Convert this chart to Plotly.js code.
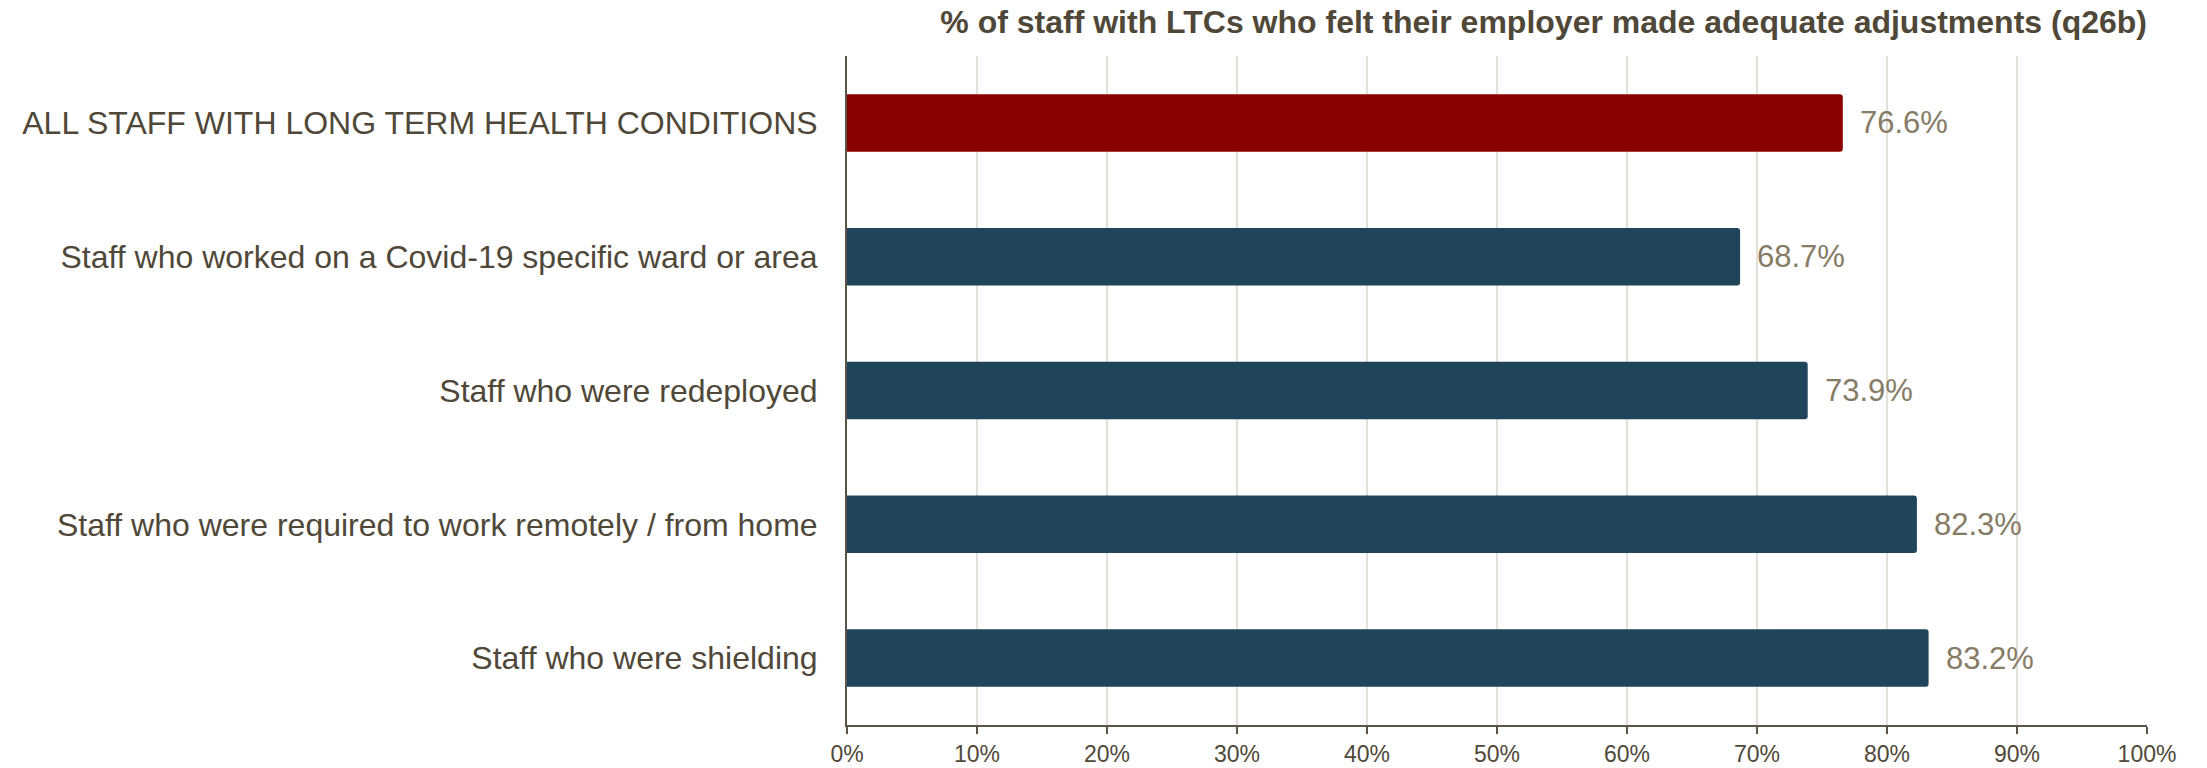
<!DOCTYPE html>
<html>
<head>
<meta charset="utf-8">
<script src="https://cdn.plot.ly/plotly-3.0.1.min.js"></script>
<style>
  html, body { margin: 0; padding: 0; background: #ffffff; }
  #chart { width: 2207px; height: 768px; }
</style>
</head>
<body>
<div id="chart"></div>
<script>
// Survey groups, top to bottom
const categories = [
  "ALL STAFF WITH LONG TERM HEALTH CONDITIONS",
  "Staff who worked on a Covid-19 specific ward or area",
  "Staff who were redeployed",
  "Staff who were required to work remotely / from home",
  "Staff who were shielding"
];

// Percentage of staff with LTCs reporting adequate adjustments
const values = [76.6, 68.7, 73.9, 82.3, 83.2];

// Tick values and labels for the percentage axis
const tickValues = [0, 10, 20, 30, 40, 50, 60, 70, 80, 90, 100];
const tickLabels = ["0%", "10%", "20%", "30%", "40%", "50%", "60%", "70%", "80%", "90%", "100%"];

const chartTitle = "% of staff with LTCs who felt their employer made adequate adjustments (q26b)";

const textColor = "#4f4839";
const valueColor = "#867b65";
const axisColor = "#5b5345";
const barColors = categories.map((c, i) => i === 0 ? "#8b0000" : "#20455a");

const trace = {
  type: "bar",
  orientation: "h",
  x: values,
  y: categories,
  width: 0.43,
  marker: { color: barColors, cornerradius: 3, line: { width: 0 } },
  hoverinfo: "skip"
};

// Value labels placed just past each bar's end
const valueLabels = values.map((v, i) => ({
  x: v,
  y: categories[i],
  xref: "x",
  yref: "y",
  text: v.toFixed(1) + "%",
  showarrow: false,
  xanchor: "left",
  yanchor: "middle",
  xshift: 15,
  font: { family: "Liberation Sans, Arial, sans-serif", size: 31, color: valueColor }
}));

const layout = {
  width: 2207,
  height: 768,
  paper_bgcolor: "#ffffff",
  plot_bgcolor: "#ffffff",
  margin: { l: 847, r: 60, t: 56, b: 43, pad: 0 },
  showlegend: false,
  font: { family: "Liberation Sans, Arial, sans-serif", color: textColor },
  title: {
    text: "<b>" + chartTitle + "</b>",
    xref: "paper",
    x: 1,
    xanchor: "right",
    yref: "container",
    y: 1 - 22 / 768,
    yanchor: "middle",
    font: { family: "Liberation Sans, Arial, sans-serif", size: 32, color: textColor }
  },
  xaxis: {
    range: [0, 100],
    tickvals: tickValues,
    ticktext: tickLabels,
    showgrid: true,
    gridcolor: "#e3dfdb",
    gridwidth: 1.5,
    zeroline: false,
    showline: true,
    linecolor: axisColor,
    linewidth: 2,
    ticks: "outside",
    ticklen: 7,
    tickwidth: 2,
    tickcolor: axisColor,
    tickfont: { size: 23, color: textColor },
    fixedrange: true
  },
  yaxis: {
    range: [4.5, -0.5],
    showgrid: false,
    zeroline: false,
    showline: true,
    linecolor: axisColor,
    linewidth: 2,
    ticks: "",
    ticklabelstandoff: 21,
    tickfont: { size: 32, color: textColor },
    fixedrange: true
  },
  annotations: valueLabels
};

Plotly.newPlot("chart", [trace], layout, { displayModeBar: false, staticPlot: true });
</script>
</body>
</html>
